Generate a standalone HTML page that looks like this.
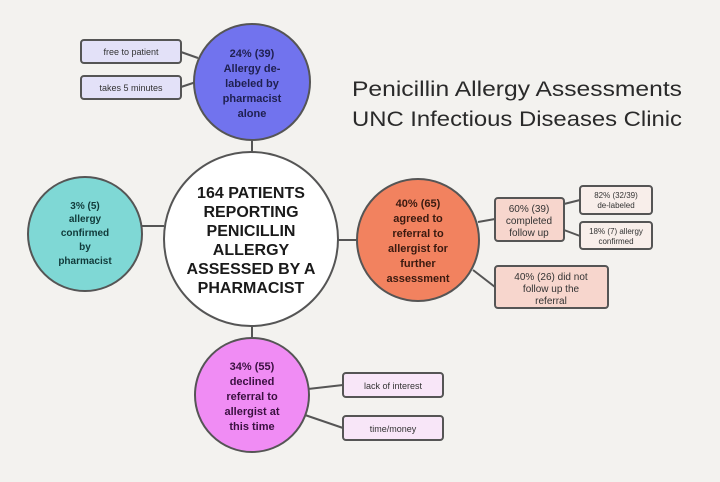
<!DOCTYPE html>
<html><head><meta charset="utf-8"><style>
html,body{margin:0;padding:0;background:#f3f2ef;}
svg{display:block;font-family:"Liberation Sans",sans-serif;}
.b{font-weight:bold;}
</style></head><body>
<svg width="720" height="482" viewBox="0 0 720 482" xmlns="http://www.w3.org/2000/svg">
<rect width="720" height="482" fill="#f3f2ef"/>
<g stroke="#555" stroke-width="2" fill="none">
<line x1="252" y1="140" x2="252" y2="158"/>
<line x1="252" y1="320" x2="252" y2="338"/>
<line x1="142" y1="226" x2="164" y2="226"/>
<line x1="338" y1="240" x2="357" y2="240"/>
<line x1="181" y1="52" x2="198" y2="58"/>
<line x1="181" y1="87" x2="196" y2="82"/>
<line x1="478" y1="222" x2="495" y2="219"/>
<line x1="473" y1="270" x2="495" y2="287"/>
<line x1="564" y1="204" x2="580" y2="200"/>
<line x1="564" y1="230" x2="580" y2="236"/>
<line x1="308" y1="389" x2="343" y2="385"/>
<line x1="305" y1="415" x2="343" y2="428"/>
</g>
<g stroke="#555" stroke-width="2">
<circle cx="252" cy="82" r="58" fill="#7173ee"/>
<circle cx="251" cy="239" r="87" fill="#ffffff"/>
<circle cx="85" cy="234" r="57" fill="#7fd8d5"/>
<circle cx="418" cy="240" r="61" fill="#f2825f"/>
<circle cx="252" cy="395" r="57" fill="#f08cf4"/>
<rect x="81" y="40" width="100" height="23" rx="3" fill="#e3e1f8"/>
<rect x="81" y="76" width="100" height="23" rx="3" fill="#e3e1f8"/>
<rect x="495" y="198" width="69" height="43" rx="3" fill="#f7d6cd"/>
<rect x="580" y="186" width="72" height="28" rx="3" fill="#f8eeea"/>
<rect x="580" y="222" width="72" height="27" rx="3" fill="#f8eeea"/>
<rect x="495" y="266" width="113" height="42" rx="3" fill="#f7d6cd"/>
<rect x="343" y="373" width="100" height="24" rx="3" fill="#f8e6f8"/>
<rect x="343" y="416" width="100" height="24" rx="3" fill="#f8e6f8"/>
</g>
<g text-anchor="middle" fill="#333" font-size="9">
<text x="131" y="55">free to patient</text>
<text x="131" y="91">takes 5 minutes</text>
<text x="393" y="389">lack of interest</text>
<text x="393" y="432">time/money</text>
<text x="529" y="212" font-size="10">60% (39)</text>
<text x="529" y="224" font-size="10">completed</text>
<text x="529" y="236" font-size="10">follow up</text>
<text x="616" y="198" font-size="8">82% (32/39)</text>
<text x="616" y="208" font-size="8">de-labeled</text>
<text x="616" y="234" font-size="8">18% (7) allergy</text>
<text x="616" y="244" font-size="8">confirmed</text>
<text x="551" y="280" font-size="10">40% (26) did not</text>
<text x="551" y="292" font-size="10">follow up the</text>
<text x="551" y="304" font-size="10">referral</text>
</g>
<g text-anchor="middle" class="b" font-size="11" fill="#1f2050">
<text x="252" y="57">24% (39)</text>
<text x="252" y="72">Allergy  de-</text>
<text x="252" y="87">labeled by</text>
<text x="252" y="102">pharmacist</text>
<text x="252" y="117">alone</text>
</g>
<g text-anchor="middle" class="b" font-size="10" fill="#113a3a">
<text x="85" y="209">3% (5)</text>
<text x="85" y="222">allergy</text>
<text x="85" y="236">confirmed</text>
<text x="85" y="250">by</text>
<text x="85" y="264">pharmacist</text>
</g>
<g text-anchor="middle" class="b" font-size="11" fill="#3a1a10">
<text x="418" y="207">40% (65)</text>
<text x="418" y="222">agreed to</text>
<text x="418" y="237">referral to</text>
<text x="418" y="252">allergist for</text>
<text x="418" y="267">further</text>
<text x="418" y="282">assessment</text>
</g>
<g text-anchor="middle" class="b" font-size="11" fill="#3a1040">
<text x="252" y="370">34% (55)</text>
<text x="252" y="385">declined</text>
<text x="252" y="400">referral to</text>
<text x="252" y="415">allergist at</text>
<text x="252" y="430">this time</text>
</g>
<g text-anchor="middle" class="b" font-size="16" fill="#1a1a1a">
<text x="251" y="198">164 PATIENTS</text>
<text x="251" y="217">REPORTING</text>
<text x="251" y="236">PENICILLIN</text>
<text x="251" y="255">ALLERGY</text>
<text x="251" y="274">ASSESSED BY A</text>
<text x="251" y="293">PHARMACIST</text>
</g>
<g font-size="21" fill="#2a2a2a">
<text x="352" y="96" textLength="330" lengthAdjust="spacingAndGlyphs">Penicillin Allergy Assessments</text>
<text x="352" y="126" textLength="330" lengthAdjust="spacingAndGlyphs">UNC Infectious Diseases Clinic</text>
</g>
</svg>
</body></html>
